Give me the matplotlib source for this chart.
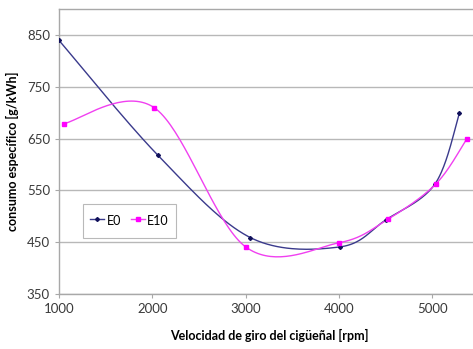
import numpy as np
import matplotlib
matplotlib.use("Agg")
import matplotlib.pyplot as plt

# consumo especifico vs regimen de giro
rpm_e0 = [1000, 2060, 3050, 4010, 4500, 5030, 5290]
cons_e0 = [840, 618, 459, 441, 493, 563, 699]

rpm_e10 = [1050, 2020, 3000, 4000, 4520, 5040, 5370]
cons_e10 = [679, 710, 441, 449, 494, 563, 650]

y_ticks = [350, 450, 550, 650, 750, 850]
x_ticks = [1000, 2000, 3000, 4000, 5000]


def suavizar(xs, ys, n=40):
    # curva suavizada tipo Catmull-Rom (como la linea suavizada de Excel)
    p = np.column_stack([xs, ys]).astype(float)
    p = np.vstack([p[0], p, p[-1]])
    out = []
    for i in range(1, len(p) - 2):
        p0, p1, p2, p3 = p[i - 1], p[i], p[i + 1], p[i + 2]
        c1 = p1 + (p2 - p0) / 6.0
        c2 = p2 - (p3 - p1) / 6.0
        t = np.linspace(0, 1, n)[:, None]
        seg = ((1 - t) ** 3) * p1 + 3 * ((1 - t) ** 2) * t * c1 \
            + 3 * (1 - t) * t ** 2 * c2 + t ** 3 * p2
        out.append(seg if i == 1 else seg[1:])
    out = np.vstack(out)
    return out[:, 0], out[:, 1]


plt.rcParams['font.family'] = ['Lato', 'DejaVu Sans']

fig = plt.figure(figsize=(4.73, 3.49), dpi=100)
ax = fig.add_axes([59 / 473, 1 - 294 / 349, 420 / 473, (294 - 9.3) / 349])

c_e0 = '#3a3a8c'
c_e10 = '#f040f0'

sx, sy = suavizar(rpm_e0, cons_e0)
ax.plot(sx, sy, color=c_e0, lw=1.0, zorder=3)
ax.plot(rpm_e0, cons_e0, ls='none', marker='D', ms=2, color='#10105a', zorder=4)

sx, sy = suavizar(rpm_e10, cons_e10)
ax.plot(sx, sy, color=c_e10, lw=1.0, zorder=3)
ax.plot(rpm_e10, cons_e10, ls='none', marker='s', ms=3.5, color='#ff00ff', zorder=4)

# entradas de la leyenda
ax.plot([], [], color=c_e0, lw=1.0, marker='D', ms=2, mfc='#10105a', mec='#10105a', label='E0')
ax.plot([], [], color=c_e10, lw=1.0, marker='s', ms=3.5, mfc='#ff00ff', mec='#ff00ff', label='E10')

ax.set_xlim(1000, 5500)
ax.set_ylim(350, 900)
ax.set_xticks(x_ticks)
ax.set_yticks(y_ticks)
ax.grid(axis='y', color='#b8b8b8', lw=1.0)
ax.set_axisbelow(True)

for s in ['left', 'bottom', 'top']:
    ax.spines[s].set_color('#a8a8a8')
    ax.spines[s].set_linewidth(1.0)
ax.spines['right'].set_visible(False)
ax.tick_params(axis='both', colors='#a8a8a8', labelcolor='#3a3a3a', labelsize=9.5, length=3, width=0.8)

ax.set_xlabel('Velocidad de giro del cigüeñal [rpm]', fontsize=9, fontweight='bold', labelpad=10)
ax.set_ylabel('consumo específico [g/kWh]', fontsize=9, fontweight='bold', labelpad=6)

leg = ax.legend(loc='lower left', bbox_to_anchor=(0.057, 0.197), ncol=2, fontsize=9,
                frameon=True, fancybox=False, edgecolor='#a8a8a8', borderpad=0.6,
                borderaxespad=0, handlelength=1.1, handleheight=1.9,
                handletextpad=0.2, columnspacing=0.8)
leg.get_frame().set_linewidth(0.8)

fig.savefig('out.png', dpi=100)
